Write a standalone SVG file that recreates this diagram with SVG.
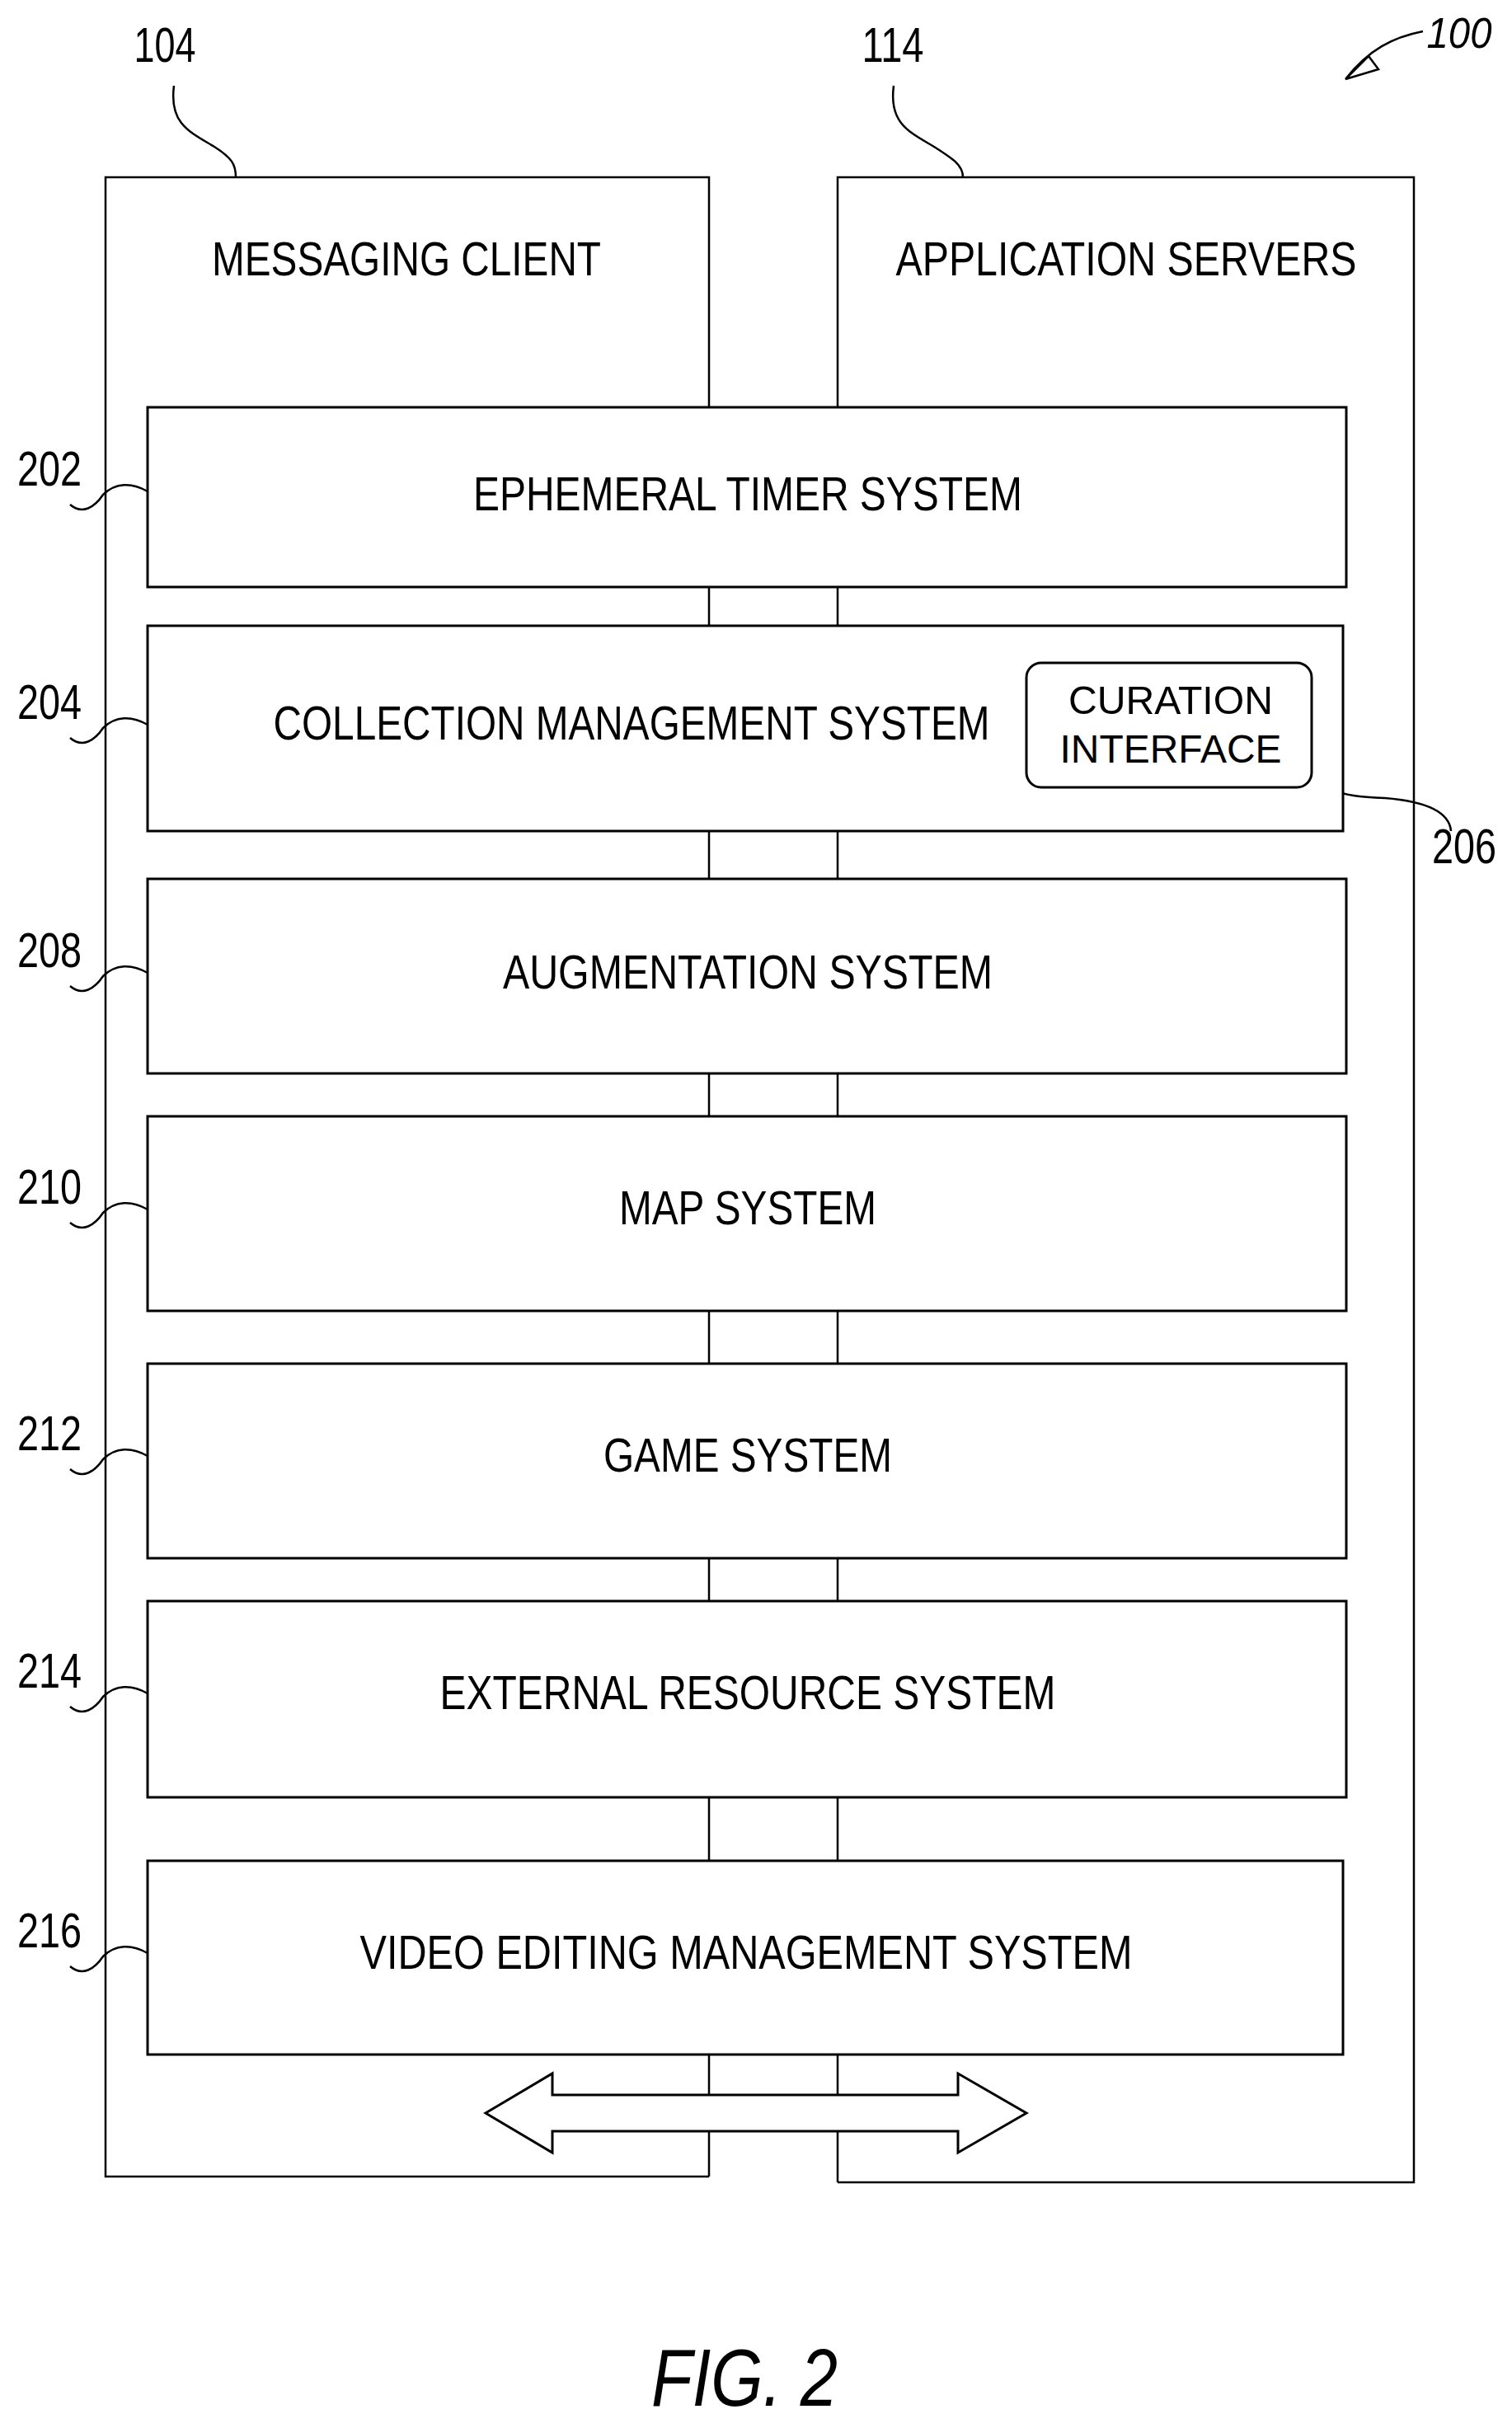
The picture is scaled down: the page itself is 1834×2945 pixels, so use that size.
<svg xmlns="http://www.w3.org/2000/svg" width="1834" height="2945" viewBox="0 0 1834 2945">
<style>
.b{fill:#fff;stroke:#000;stroke-width:3}
.l{fill:none;stroke:#000;stroke-width:2.5}
.t{font-family:"Liberation Sans",Arial,sans-serif;font-size:57px;text-anchor:middle;fill:#000}
.n{font-family:"Liberation Sans",Arial,sans-serif;font-size:60px;text-anchor:middle;fill:#000}
</style>
<rect width="1834" height="2945" fill="#fff"/>
<g id="client"><polyline class="l" points="860,2640 128,2640 128,215 860,215 860,494"/><text class="t" x="493" y="334" textLength="472" lengthAdjust="spacingAndGlyphs">MESSAGING CLIENT</text></g>
<g id="servers"><polyline class="l" points="1016,494 1016,215 1715,215 1715,2647 1016,2647"/><text class="t" x="1366" y="334" textLength="559" lengthAdjust="spacingAndGlyphs">APPLICATION SERVERS</text></g>
<g id="connectors">
<path class="l" d="M860,712V759M1016,712V759M860,1008V1066M1016,1008V1066M860,1302V1354M1016,1302V1354M860,1590V1654M1016,1590V1654M860,1890V1942M1016,1890V1942M860,2180V2257M1016,2180V2257M860,2492V2541M1016,2492V2541M860,2585V2640M1016,2585V2647"/>
<path class="l" d="M211,104 C205,150 230,160 260,178 C282,192 286,200 286,215"/>
<path class="l" d="M1084,104 C1078,150 1103,160 1133,178 C1155,192 1168,200 1168,215"/>
<path class="l" d="M1591,922 C1600,960 1620,965 1680,968 C1730,972 1758,985 1760,1008"/>
<path class="l" d="M1726,38 C1690,45 1660,60 1632,96 M1632,96 L1660,68 L1672,84 Z"/>
<g id="legs">
<path class="l" d="M85,612 C100,625 115,615 125,600 C140,585 160,585 179,596"/>
<path class="l" d="M85,895 C100,908 115,898 125,883 C140,868 160,868 179,879"/>
<path class="l" d="M85,1196 C100,1209 115,1199 125,1184 C140,1169 160,1169 179,1180"/>
<path class="l" d="M85,1483 C100,1496 115,1486 125,1471 C140,1456 160,1456 179,1467"/>
<path class="l" d="M85,1782 C100,1795 115,1785 125,1770 C140,1755 160,1755 179,1766"/>
<path class="l" d="M85,2070 C100,2083 115,2073 125,2058 C140,2043 160,2043 179,2054"/>
<path class="l" d="M85,2385 C100,2398 115,2388 125,2373 C140,2358 160,2358 179,2369"/>
</g>
</g>
<g id="n202"><rect class="b" x="179" y="494" width="1454" height="218"/><text class="t" x="907" y="619" textLength="666" lengthAdjust="spacingAndGlyphs">EPHEMERAL TIMER SYSTEM</text></g>
<g id="n204"><rect class="b" x="179" y="759" width="1450" height="249"/><text class="t" x="766" y="897" textLength="869" lengthAdjust="spacingAndGlyphs">COLLECTION MANAGEMENT SYSTEM</text></g>
<g id="n206"><rect class="b" x="1245" y="804" width="346" height="151" rx="18"/><text class="t" style="font-size:48px" x="1420" y="866" textLength="248" lengthAdjust="spacingAndGlyphs">CURATION</text><text class="t" style="font-size:48px" x="1420" y="925" textLength="269" lengthAdjust="spacingAndGlyphs">INTERFACE</text></g>
<g id="n208"><rect class="b" x="179" y="1066" width="1454" height="236"/><text class="t" x="907" y="1199" textLength="594" lengthAdjust="spacingAndGlyphs">AUGMENTATION SYSTEM</text></g>
<g id="n210"><rect class="b" x="179" y="1354" width="1454" height="236"/><text class="t" x="907" y="1485" textLength="312" lengthAdjust="spacingAndGlyphs">MAP SYSTEM</text></g>
<g id="n212"><rect class="b" x="179" y="1654" width="1454" height="236"/><text class="t" x="907" y="1785" textLength="350" lengthAdjust="spacingAndGlyphs">GAME SYSTEM</text></g>
<g id="n214"><rect class="b" x="179" y="1942" width="1454" height="238"/><text class="t" x="907" y="2073" textLength="747" lengthAdjust="spacingAndGlyphs">EXTERNAL RESOURCE SYSTEM</text></g>
<g id="n216"><rect class="b" x="179" y="2257" width="1450" height="235"/><text class="t" x="905" y="2388" textLength="937" lengthAdjust="spacingAndGlyphs">VIDEO EDITING  MANAGEMENT SYSTEM</text></g>
<g id="arrow"><polygon class="b" points="589,2563 670,2515 670,2541 1162,2541 1162,2515 1245,2563 1162,2611 1162,2585 670,2585 670,2611"/></g>
<g id="labels">
<text class="n" x="200" y="75" textLength="75" lengthAdjust="spacingAndGlyphs">104</text>
<text class="n" x="1083" y="75" textLength="75" lengthAdjust="spacingAndGlyphs">114</text>
<text class="n" x="1770" y="58" style="font-style:italic;font-size:52px" textLength="79" lengthAdjust="spacingAndGlyphs">100</text>
<text class="n" x="60" y="589" textLength="78" lengthAdjust="spacingAndGlyphs">202</text>
<text class="n" x="60" y="872" textLength="78" lengthAdjust="spacingAndGlyphs">204</text>
<text class="n" x="1776" y="1047" textLength="78" lengthAdjust="spacingAndGlyphs">206</text>
<text class="n" x="60" y="1173" textLength="78" lengthAdjust="spacingAndGlyphs">208</text>
<text class="n" x="60" y="1460" textLength="78" lengthAdjust="spacingAndGlyphs">210</text>
<text class="n" x="60" y="1759" textLength="78" lengthAdjust="spacingAndGlyphs">212</text>
<text class="n" x="60" y="2047" textLength="78" lengthAdjust="spacingAndGlyphs">214</text>
<text class="n" x="60" y="2362" textLength="78" lengthAdjust="spacingAndGlyphs">216</text>
<text class="n" x="903" y="2918" style="font-size:98px;font-style:italic" textLength="226" lengthAdjust="spacingAndGlyphs">FIG. 2</text>
</g>
</svg>
